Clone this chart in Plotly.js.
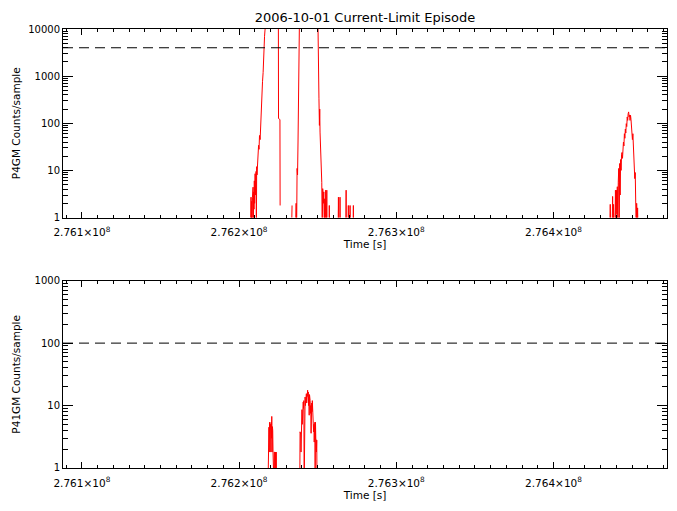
<!DOCTYPE html>
<html>
<head>
<meta charset="utf-8">
<script src="https://cdn.plot.ly/plotly-3.0.1.min.js"></script>
<style>html,body{margin:0;padding:0;background:#fff;}#chart{width:677px;height:511px;}</style>
</head>
<body>
<div id="chart"></div>
<script>
// ---- Data ----
// Time in seconds; null = no sample; values < 1 fall below the log axis.
const p4gmTime = [
  276207300,276207600,276207800,276208000,276208300,276208500,276208600,276208900,276209100,276209300,
  276209500,276209700,276209900,276210200,276210400,276210600,276210800,276211000,276211200,276211400,
  276211800,276212100,276212400,276212700,276213000,276213400,276213700,276214000,276214300,276214600,
  276214900,276215300,276215600,276215900,276216200,276216500,276217200,276218400,276220300,276222300,
  276224200,276225000,276225100,276226000,276226100,276226300,
  276233400,276233700,276233900,
  276235900,276236300,276236600,276236900,276237200,276237500,276237700,276238000,276238400,276240100,
  276242600,276245200,276247700,276250200,276250400,276250800,276251100,276251300,276251500,276252000,
  276252300,276252600,276252900,276253200,276253600,276253900,276254200,276254500,276254800,276255100,
  276255500,276255800,276256000,276256200,
  276257200,276257400,276257600,276257800,
  276263000,276263200,276263400,276264100,276264200,276264400,276264600,
  276267900,276268100,276268200,276268400,
  276269300,276269500,276269700,276270400,276270600,276270800,276271000,
  276272500,276272700,276272900,276273100,
  276435800,276436100,276436400,276436700,276437000,276437300,276437600,276437900,276438200,276438500,
  276438800,276439100,276439400,276439700,276440000,276440300,276440600,276440900,276441200,276441500,
  276441800,276442100,276442400,276442700,276443000,276443300,276443600,276443900,276444200,276444500,
  276444800,276445100,276445400,276445700,276446000,276446300,276446600,276446900,276447200,276447500,
  276447800,276448100,276448400,276448700,276449000,276449300,276449600,276449900,276450200,276450500,
  276450800,276451100,276451400,276451700,276452000,276452300,276452600,276452900,276453200,276453500,
  276453800,276454100
];
const p4gmCounts = [
  0.5,2.7,0.5,2.2,0.5,2.7,0.6,4.4,0.5,3.5,
  1.5,6.0,2.0,8.5,3.0,6.0,9.5,0.5,12,8,
  15,20,34,28,55,45,90,150,340,300,
  760,1200,3900,3000,7000,9500,15000,25000,40000,30000,
  20000,12000,126,120,1.8,null,
  0.5,1.8,null,
  0.5,2.0,0.5,11,8,40,340,2400,15000,30000,
  45000,40000,25000,12000,820,340,90,200,65,21,
  30,5.6,0.5,4.1,2.0,3.5,0.5,2.5,0.5,3.8,
  0.5,3.8,0.5,null,
  0.5,1.8,0.5,null,
  0.5,2.7,0.5,0.5,2.7,0.5,null,
  0.5,3.8,0.5,null,
  0.5,1.8,0.5,0.5,1.8,0.5,null,
  0.5,1.8,0.5,null,
  0.5,1.9,0.5,null,null,0.5,2.8,0.5,1.9,0.5,
  null,0.5,3.8,0.5,3.8,1.2,4.5,0.5,5.6,11,
  0.5,14,3,17,10,22,24,18,32,40,
  33,60,48,75,62,98,85,136,115,160,
  174,136,150,115,148,120,70,90,45,60,
  28,35,15,6.7,9,3,0.5,2,0.5,1.6,
  0.5,null
];

const p41gmTime = [
  276218400,276218600,276218800,276219000,276219200,276219400,276219600,276219800,276220000,276220200,
  276220400,276220600,276220800,276221000,276221200,276221400,276221600,276221800,276222000,276222200,
  276222400,276222600,276222800,276223000,276223200,276223400,276223600,276223800,276224000,
  276238600,276238800,276239000,276239200,276239400,276239600,276239800,276240000,276240200,276240400,
  276240600,276240800,276241000,276241200,276241400,276241600,276241800,276242000,276242200,276242400,
  276242600,276242800,276243000,276243200,276243400,276243600,276243800,276244000,276244200,276244400,
  276244600,276244800,276245000,276245200,276245400,276245600,276245800,276246000,276246200,276246400,
  276246600,276246800,276247000,276247200,276247400,276247600,276247800,276248000,276248200,276248400,
  276248600,276248800,276249000,276249200,276249400,276249600,276249800
];
const p41gmCounts = [
  0.5,2.8,0.5,4.5,1.8,5.4,2.0,4.6,5.0,1.8,
  5.4,3.0,6.7,1.8,4.6,4.0,1.8,0.5,1.8,0.5,
  1.8,1.8,0.5,1.8,1.8,0.5,1.8,0.5,null,
  0.5,3.8,1.8,3.5,1.8,3.8,2.5,8.6,5,9,
  7,11.4,9,12,0.5,11,9,13.7,10,14,
  12,15.5,11,16,13,17.6,14,16.5,10,14,
  7,15,9,12,7.5,10,3.6,8,11,8,
  12,8.4,7.5,8.4,3.8,5,2.6,4,5.4,0.5,
  5.4,3,2.8,1.8,2.8,0.5,null
];

const p4gmLimit = 4000;
const p41gmLimit = 100;
const timeRange = [276088000, 276472200];
const xTickVals = [276100000, 276200000, 276300000, 276400000];
const xTickText = ['2.761×10<sup>8</sup>', '2.762×10<sup>8</sup>', '2.763×10<sup>8</sup>', '2.764×10<sup>8</sup>'];
const yTickVals1 = [1, 10, 100, 1000, 10000];
const yTickText1 = ['1', '10', '100', '1000', '10000'];
const yTickVals2 = [1, 10, 100, 1000];
const yTickText2 = ['1', '10', '100', '1000'];
const titleText = '2006-10-01 Current-Limit Episode';

// ---- Minor log ticks (2..9 per decade) ----
function logMinors(maxDecade) {
  const out = [];
  for (let d = 0; d < maxDecade; d++) for (let m = 2; m <= 9; m++) out.push(m * Math.pow(10, d));
  return out;
}

const traces = [
  {x: p4gmTime, y: p4gmCounts, xaxis: 'x', yaxis: 'y', mode: 'lines',
   line: {color: '#ff0000', width: 1}, connectgaps: false, hoverinfo: 'skip'},
  {x: timeRange, y: [p4gmLimit, p4gmLimit], xaxis: 'x', yaxis: 'y', mode: 'lines',
   line: {color: '#000000', width: 1, dash: '10px,6px'}, hoverinfo: 'skip'},
  {x: p41gmTime, y: p41gmCounts, xaxis: 'x2', yaxis: 'y2', mode: 'lines',
   line: {color: '#ff0000', width: 1}, connectgaps: false, hoverinfo: 'skip'},
  {x: timeRange, y: [p41gmLimit, p41gmLimit], xaxis: 'x2', yaxis: 'y2', mode: 'lines',
   line: {color: '#000000', width: 1, dash: '10px,6px'}, hoverinfo: 'skip'}
];

function xAxis(anchor) {
  return {
    anchor: anchor, domain: [0, 1], range: timeRange,
    tickmode: 'array', tickvals: xTickVals, ticktext: xTickText,
    ticks: 'inside', ticklen: 6, tickwidth: 1, tickcolor: '#000',
    showline: true, linecolor: '#000', linewidth: 1, mirror: 'allticks',
    showgrid: false, zeroline: false, ticklabelstandoff: 5,
    tickfont: {size: 10.5, color: '#000'},
    minor: {tickmode: 'linear', tick0: 276100000, dtick: 10000, ticks: 'inside',
            ticklen: 3, tickwidth: 1, tickcolor: '#000', showgrid: false},
    title: {text: 'Time [s]', font: {size: 10.5, color: '#000'}, standoff: 2}
  };
}
function yAxis(anchor, domain, range, tv, tt, titleTxt, standoff) {
  return {
    anchor: anchor, domain: domain, type: 'log', range: range,
    tickmode: 'array', tickvals: tv, ticktext: tt,
    ticks: 'inside', ticklen: 10, tickwidth: 1, tickcolor: '#000',
    showline: true, linecolor: '#000', linewidth: 1, mirror: 'allticks',
    showgrid: false, zeroline: false,
    tickfont: {size: 10, color: '#000'},
    minor: {tickmode: 'array', tickvals: logMinors(range[1]), ticks: 'inside',
            ticklen: 5, tickwidth: 1, tickcolor: '#000', showgrid: false},
    title: {text: titleTxt, font: {size: 10.5, color: '#000'}, standoff: standoff}
  };
}

const layout = {
  width: 677, height: 511,
  paper_bgcolor: '#fff', plot_bgcolor: '#fff',
  showlegend: false,
  margin: {l: 63, r: 10, t: 29, b: 43},
  font: {family: 'DejaVu Sans, sans-serif', size: 10.5, color: '#000'},
  title: {text: titleText, font: {size: 13, color: '#000'}, x: 0.5, xref: 'paper',
          xanchor: 'center', y: 1 - 17 / 511, yref: 'container', yanchor: 'middle'},
  xaxis: xAxis('y'),
  yaxis: yAxis('x', [0.5706, 1], [0, 4], yTickVals1, yTickText1, 'P4GM Counts/sample', 5),
  xaxis2: xAxis('y2'),
  yaxis2: yAxis('x2', [0, 0.4267], [0, 3], yTickVals2, yTickText2, 'P41GM Counts/sample', 11)
};

Plotly.newPlot('chart', traces, layout, {staticPlot: true, displayModeBar: false});
</script>
</body>
</html>
